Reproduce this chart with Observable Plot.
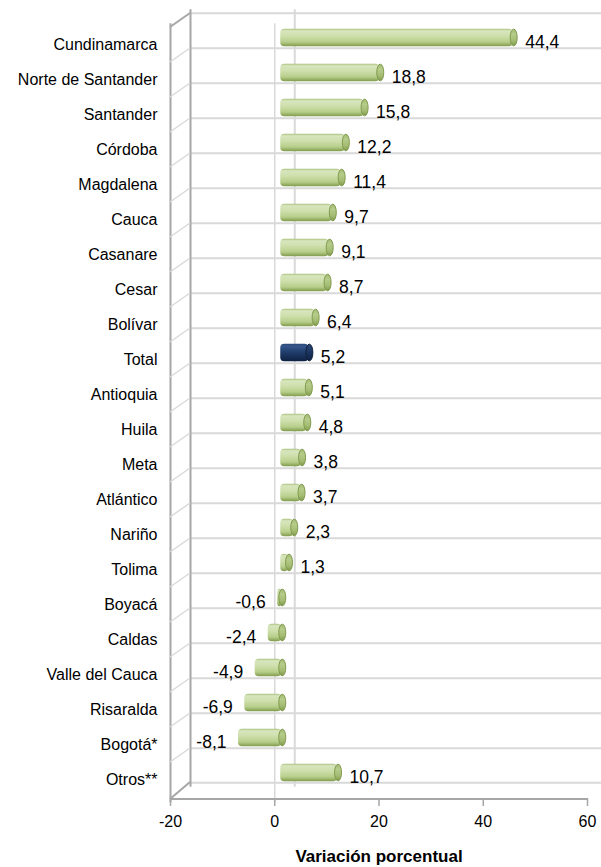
<!DOCTYPE html>
<html><head><meta charset="utf-8">
<script src="https://cdn.jsdelivr.net/npm/d3@7"></script>
<script src="https://cdn.jsdelivr.net/npm/@observablehq/plot@0.6"></script>
<style>html,body{margin:0;padding:0;background:#fff;overflow:hidden}</style>
</head><body><div id="chart"></div>
<script>
const categories = ["Cundinamarca","Norte de Santander","Santander","Córdoba","Magdalena","Cauca","Casanare","Cesar","Bolívar","Total","Antioquia","Huila","Meta","Atlántico","Nariño","Tolima","Boyacá","Caldas","Valle del Cauca","Risaralda","Bogotá*","Otros**"];
const values = [44.4, 18.8, 15.8, 12.2, 11.4, 9.7, 9.1, 8.7, 6.4, 5.2, 5.1, 4.8, 3.8, 3.7, 2.3, 1.3, -0.6, -2.4, -4.9, -6.9, -8.1, 10.7];
const highlight = "Total";
const xTicks = [-20, 0, 20, 40, 60];
const xTitle = "Variación porcentual";

const data = categories.map((c, i) => ({cat: c, v: values[i], lo: Math.min(0, values[i]), hi: Math.max(0, values[i])}));
const W = 601, H = 867, mT = 16.33, mB = 73.33, mL = 170, mR = 14;
const bw = (H - mT - mB) / categories.length;
const barH = 18, ins = (bw - barH) / 2;
const FONT = "'Liberation Sans', Arial, sans-serif";
const grid = "#d9d9d9", edge = "#a6a6a6";
const fmt = v => v.toFixed(1).replace(".", ",");
const green = data.filter(d => d.cat !== highlight);
const blue = data.filter(d => d.cat === highlight);

const plot = Plot.plot({
  width: W, height: H, marginTop: mT, marginBottom: mB, marginLeft: mL, marginRight: mR,
  x: {domain: [-20, 60], axis: null},
  y: {domain: categories, axis: null, padding: 0},
  style: {fontFamily: FONT, background: "#fff", color: "#000"},
  marks: [
    // back wall
    Plot.ruleY(categories, {y: d => d, dy: -bw / 2 - 7, x1: -20, x2: 60, dx: 20, stroke: grid, strokeWidth: 2}),
    Plot.ruleY([categories[categories.length - 1]], {y: d => d, dy: bw / 2 - 8, x1: -20, x2: 60, dx: 20, stroke: grid, strokeWidth: 2}),
    Plot.ruleX([0], {x: d => d, dx: 20, dy: -7, stroke: grid, strokeWidth: 2}),
    Plot.ruleX([-20], {x: d => d, dx: 20, dy: -7, stroke: edge, strokeWidth: 2}),
    // front plane
    Plot.ruleX([0], {x: d => d, dy: 7, insetBottom: -1.5, stroke: grid, strokeWidth: 1.5}),
    Plot.ruleX([-20], {x: d => d, dy: 7, insetBottom: -1.5, stroke: edge, strokeWidth: 2}),
    Plot.ruleY([categories[categories.length - 1]], {y: d => d, dy: bw / 2 + 8.3, x1: -20, x2: 60, stroke: edge, strokeWidth: 2}),
    Plot.ruleX(xTicks, {x: d => d, dy: 12.3, insetTop: (H - mT - mB) - 8, stroke: edge, strokeWidth: 1.5}),
    // bars
    Plot.barX(green, {x1: "lo", x2: "hi", y: "cat", dx: 7, insetTop: ins, insetBottom: ins, insetLeft: -1, rx: 4, fill: "url(#gGreen)"}),
    Plot.barX(green, {x1: "hi", x2: "hi", y: "cat", dx: 8, insetTop: ins + 0.5, insetBottom: ins + 0.5, insetLeft: -3.5, insetRight: -3.5, rx: 3.5, ry: 8.5, fill: "url(#gGreenCap)", stroke: "#7f9a4c", strokeWidth: 1}),
    Plot.barX(blue, {x1: "lo", x2: "hi", y: "cat", dx: 7, insetTop: ins, insetBottom: ins, insetLeft: -1, rx: 4, fill: "url(#gBlue)"}),
    Plot.barX(blue, {x1: "hi", x2: "hi", y: "cat", dx: 8, insetTop: ins + 0.5, insetBottom: ins + 0.5, insetLeft: -3.5, insetRight: -3.5, rx: 3.5, ry: 8.5, fill: "url(#gBlueCap)", stroke: "#0e1f3c", strokeWidth: 1}),
    // value labels
    Plot.text(data.filter(d => d.v >= 0), {x: "v", y: "cat", text: d => fmt(d.v), dx: 19, dy: 4.5, textAnchor: "start", fontSize: 17.5, fill: "#000"}),
    Plot.text(data.filter(d => d.v < 0), {x: "v", y: "cat", text: d => fmt(d.v), dx: -6, dy: 4.5, textAnchor: "end", fontSize: 17.5, fill: "#000"}),
    // category labels
    Plot.text(categories, {x: -20, y: d => d, text: d => d, dx: -13, dy: 6.5, textAnchor: "end", fontSize: 16, fill: "#000"}),
    // x tick labels
    Plot.text(xTicks, {x: d => d, frameAnchor: "bottom", dy: 33, text: d => String(d), fontSize: 16, fill: "#000"}),
    // x title
    Plot.text([xTitle], {frameAnchor: "bottom", dy: 68, text: d => d, fontWeight: "bold", fontSize: 17, fill: "#000"})
  ]
});

const svgEl = plot.tagName.toLowerCase() === "svg" ? plot : plot.querySelector("svg");
const svg = d3.select(svgEl);
const defs = svg.insert("defs", ":first-child");
function grad(id, stops) {
  const g = defs.append("linearGradient").attr("id", id).attr("x1", 0).attr("y1", 0).attr("x2", 0).attr("y2", 1);
  stops.forEach(([o, c]) => g.append("stop").attr("offset", o).attr("stop-color", c));
}
grad("gGreen", [[0, "#a9c07a"], [0.12, "#d8e6be"], [0.4, "#cfe0ad"], [0.75, "#b7ce8a"], [1, "#7f9a4c"]]);
grad("gGreenCap", [[0, "#a2b974"], [0.3, "#b6cc8a"], [0.7, "#a3bb72"], [1, "#7f9a4c"]]);
grad("gBlue", [[0, "#2c4a78"], [0.15, "#34558a"], [0.5, "#1f3c6a"], [1, "#0e2142"]]);
grad("gBlueCap", [[0, "#2a4674"], [0.5, "#1b355e"], [1, "#0e2142"]]);

// side-wall depth lines placed through the plot's scales
const xs = plot.scale("x"), ys = plot.scale("y");
const bwid = ys.bandwidth;
const xf = xs.apply(-20);
const g = svg.append("g");
const backs = categories.map(c => ys.apply(c) - 7);
backs.push(ys.apply(categories[categories.length - 1]) + bwid - 8);
backs.forEach((yb, i) => {
  const last = i === backs.length - 1, first = i === 0;
  g.append("line").attr("x1", xf).attr("y1", yb + (last ? 17 : 14)).attr("x2", xf + 20).attr("y2", yb)
    .attr("stroke", first || last ? edge : grid).attr("stroke-width", first || last ? 2 : 1.5);
});

document.getElementById("chart").appendChild(plot);
</script>
</body></html>
